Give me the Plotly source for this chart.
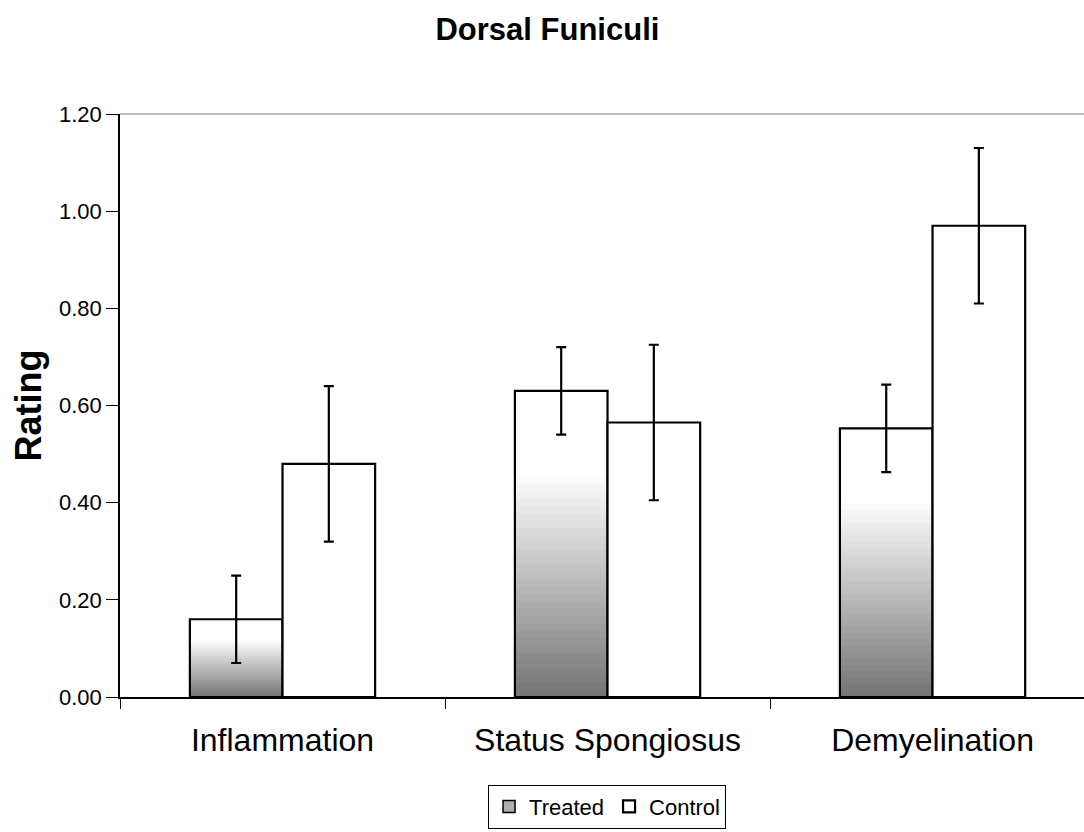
import plotly.graph_objects as go

categories = ["Inflammation", "Status Spongiosus", "Demyelination"]
treated = [0.16, 0.63, 0.553]
treated_err = [0.09, 0.09, 0.09]
control = [0.48, 0.565, 0.97]
control_err = [0.16, 0.16, 0.16]
y_ticks = [0.0, 0.2, 0.4, 0.6, 0.8, 1.0, 1.2]

FONT = "Liberation Sans, Arial, sans-serif"

fig = go.Figure()

# gradient shading of treated bars (dark at bottom fading to white), layered in the same slot
n_bands = 30
shade_top = 0.72
for i in range(n_bands):
    frac = shade_top * (n_bands - i) / n_bands
    g = int(255 - (255 - 118) * (i + 1) / n_bands)
    fig.add_trace(go.Bar(
        x=categories, y=[v * frac for v in treated],
        offsetgroup="t", showlegend=False, hoverinfo="skip",
        marker=dict(color=f"rgb({g},{g},{g})", line=dict(width=0)),
    ))

# treated outline + error bars
fig.add_trace(go.Bar(
    x=categories, y=treated, name="Treated", offsetgroup="t", showlegend=False,
    marker=dict(color="rgba(0,0,0,0)", line=dict(color="black", width=2.2)),
    error_y=dict(type="data", array=treated_err, visible=True, color="black", thickness=2.2, width=5),
))
# legend swatch for treated
fig.add_trace(go.Bar(
    x=categories, y=[None, None, None], name="Treated", offsetgroup="t",
    marker=dict(color="rgb(175,175,175)", line=dict(color="black", width=1.5)),
))

fig.add_trace(go.Bar(
    x=categories, y=control, name="Control", offsetgroup="c",
    marker=dict(color="white", line=dict(color="black", width=2.2)),
    error_y=dict(type="data", array=control_err, visible=True, color="black", thickness=2.2, width=5),
))

fig.update_layout(
    width=1084, height=832,
    margin=dict(l=120, r=0, t=114, b=135, autoexpand=False),
    paper_bgcolor="white", plot_bgcolor="white",
    barmode="group", bargap=0.43, bargroupgap=0,
    font=dict(family=FONT, color="black"),
    title=dict(text="<b>Dorsal Funiculi</b>", x=0.505, xanchor="center", y=0.965, yanchor="middle",
               font=dict(size=31, family=FONT, color="black")),
    legend=dict(orientation="h", x=0.56, xanchor="center", xref="container",
                y=0.004, yanchor="bottom", yref="container",
                bordercolor="black", borderwidth=1, bgcolor="white",
                font=dict(size=22, family=FONT), itemwidth=30, tracegroupgap=0,
                traceorder="normal"),
    showlegend=True,
)

fig.update_xaxes(
    range=[-0.5, 2.466], showline=True, linecolor="black", linewidth=1.5,
    ticks="outside", ticklen=10, tickcolor="black", tickwidth=1.2, tickson="boundaries",
    tickfont=dict(size=32, family=FONT), showgrid=False, ticklabelstandoff=14,
    mirror=False, automargin=False,
)
fig.update_yaxes(
    range=[0, 1.2], tickvals=y_ticks, tickformat=".2f",
    showline=True, linecolor="black", linewidth=1.5,
    ticks="outside", ticklen=12, tickcolor="black", tickwidth=1.2,
    tickfont=dict(size=22, family=FONT), showgrid=False, zeroline=False,
    title=dict(text="<b>Rating</b>", font=dict(size=36, family=FONT), standoff=6),
    automargin=False,
)

# gray top frame line of the plot area
fig.add_shape(type="line", xref="paper", yref="paper", x0=0, x1=1, y0=1, y1=1,
              line=dict(color="rgb(120,120,120)", width=1.2))

fig.write_html("out.html")
